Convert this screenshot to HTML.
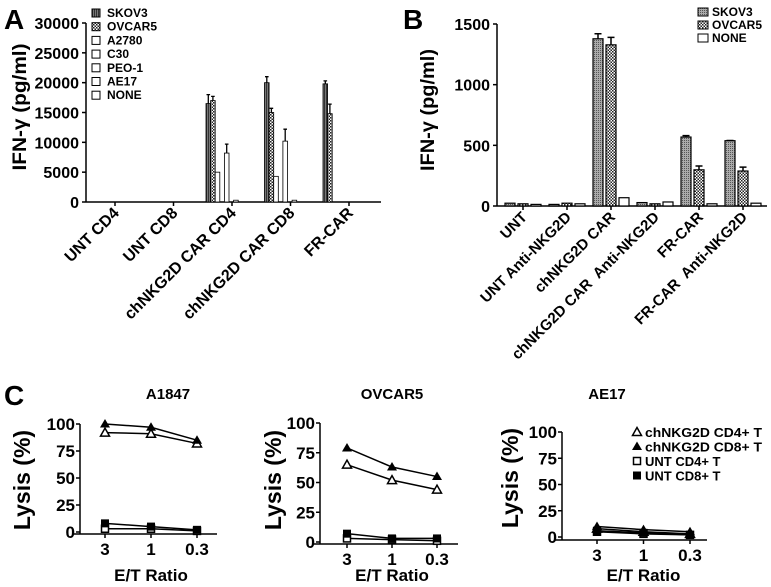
<!DOCTYPE html>
<html><head><meta charset="utf-8">
<style>
html,body{margin:0;padding:0;background:#fff;}
svg{display:block;font-family:"Liberation Sans",Arial,sans-serif;}
</style></head>
<body>
<svg id="fig" width="771" height="587" viewBox="0 0 771 587" xmlns="http://www.w3.org/2000/svg">
<defs>
<pattern id="stripes" width="2" height="4" patternUnits="userSpaceOnUse"><rect width="2" height="4" fill="#777"/><rect width="1" height="4" fill="#333"/></pattern>
<pattern id="checker" width="3" height="3" patternUnits="userSpaceOnUse"><rect width="3" height="3" fill="#fff"/><rect width="1.5" height="1.5" fill="#222"/><rect x="1.5" y="1.5" width="1.5" height="1.5" fill="#222"/></pattern>
<pattern id="dots" width="2" height="2" patternUnits="userSpaceOnUse"><rect width="2" height="2" fill="#aaa"/><rect width="1" height="1" fill="#555"/></pattern>
</defs>
<g id="gA"></g>
<g id="gB"></g>
<g id="gC"></g>
</svg>
<script>
// ---------- Panel A data ----------
const aCategories = ["UNT CD4","UNT CD8","chNKG2D CAR CD4","chNKG2D CAR CD8","FR-CAR"];
const aSeries = ["SKOV3","OVCAR5","A2780","C30","PEO-1","AE17","NONE"];
const aSKOV3 = [0,0,16500,20000,19800];
const aOVCAR5 = [0,0,17000,15000,14800];
const aA2780 = [0,0,5000,4300,0];
const aC30 = [0,0,0,0,0];
const aPEO1 = [0,0,8200,10200,0];
const aAE17 = [0,0,0,0,0];
const aNONE = [0,0,300,300,0];
const aSKOV3err = [0,0,1500,1000,500];
const aOVCAR5err = [0,0,700,700,1600];
const aPEO1err = [0,0,1500,2000,0];
const aTicks = [0,5000,10000,15000,20000,25000,30000];
// ---------- Panel B data ----------
const bCategories = ["UNT","UNT Anti-NKG2D","chNKG2D CAR","chNKG2D CAR  Anti-NKG2D","FR-CAR","FR-CAR  Anti-NKG2D"];
const bSeries = ["SKOV3","OVCAR5","NONE"];
const bSKOV3 = [15,5,1370,20,560,530];
const bOVCAR5 = [10,15,1320,10,290,280];
const bNONE = [5,10,60,25,10,15];
const bSKOV3err = [0,0,50,0,20,10];
const bOVCAR5err = [0,0,70,0,40,40];
const bTicks = [0,500,1000,1500];
// ---------- Panel C data ----------
const cRatios = ["3","1","0.3"];
const cTicks = [0,25,50,75,100];
const cSeries = ["chNKG2D CD4+ T","chNKG2D CD8+ T","UNT CD4+ T","UNT CD8+ T"];
const cA1847_CD4 = [92,91,82];
const cA1847_CD8 = [100,97,85];
const cA1847_UNT4 = [3,3,1];
const cA1847_UNT8 = [8,5,2];
const cOVCAR5_CD4 = [65,52,44];
const cOVCAR5_CD8 = [79,63,55];
const cOVCAR5_UNT4 = [3,2,1];
const cOVCAR5_UNT8 = [7,3,3];
const cAE17_CD4 = [8,5,3];
const cAE17_CD8 = [10,7,5];
const cAE17_UNT4 = [5,3,2];
const cAE17_UNT8 = [6,4,2];

const NS="http://www.w3.org/2000/svg";
function mk(parent,tag,attrs,txt){const e=document.createElementNS(NS,tag);for(const k in attrs)e.setAttribute(k,attrs[k]);if(txt!==undefined)e.textContent=txt;parent.appendChild(e);return e;}

// ===== Panel A =====
(function(){
const g=document.getElementById('gA');
const ax=86, y0=202, y1=23, xEnd=381;
const yA=v=>y0-(v/30000)*(y0-y1);
const xTick=i=>115+i*58.5;
let t=mk(g,'text',{x:4,y:29,'font-size':28,'font-weight':'bold'},'A');


t=mk(g,'text',{x:0,y:0,'font-size':19,'font-weight':'bold','text-anchor':'middle',transform:'translate(26,107) rotate(-90)',textLength:127,lengthAdjust:'spacingAndGlyphs'},'IFN-γ (pg/ml)');


let l=mk(g,'line',{x1:ax,y1:y1,x2:ax,y2:y0,stroke:'#000','stroke-width':1.5});


l=mk(g,'line',{x1:ax,y1:y0,x2:xEnd,y2:y0,stroke:'#000','stroke-width':1.5});


aTicks.forEach(v=>{
  const y=yA(v);
  const tk=mk(g,'line',{x1:ax-4,y1:y,x2:ax,y2:y,stroke:'#000','stroke-width':1.5});
  
  
  const tl=mk(g,'text',{x:79,y:y+6,'font-size':16,'font-weight':'bold','text-anchor':'end'},String(v));
  
  
});
const vals=[aSKOV3,aOVCAR5,aA2780,aC30,aPEO1,aAE17,aNONE];
const errs=[aSKOV3err,aOVCAR5err,null,null,aPEO1err,null,null];
const fills=['url(#stripes)','url(#checker)','#fff','#fff','#fff','#fff','#fff'];
aCategories.forEach((c,i)=>{
  const tx=xTick(i);
  const tk=mk(g,'line',{x1:tx,y1:y0,x2:tx,y2:y0+4,stroke:'#000','stroke-width':1.5});
  
  
  const tl=mk(g,'text',{x:0,y:0,'font-size':16,'font-weight':'bold','text-anchor':'end',transform:`translate(${tx+5},${y0+12}) rotate(-45)`},c);
  
  
  vals.forEach((arr,s)=>{
    const v=arr[i]; if(v<=0) return;
    const x=tx-26+s*4.6, y=yA(v);
    if(errs[s]&&errs[s][i]>0){
      const ey=yA(v+errs[s][i]);
      const e=mk(g,'path',{d:`M${x+2.3},${y} V${ey} M${x+0.5},${ey} H${x+4.1}`,stroke:'#000','stroke-width':1.3,fill:'none'});
      
      
    }
    const b=mk(g,'rect',{x:x,y:y,width:4.6,height:y0-y,fill:fills[s],stroke:'#000','stroke-width':0.8});
    
    
  });
});
aSeries.forEach((s,k)=>{
  const y=13+k*13.7;
  const r=mk(g,'rect',{x:92,y:y-4,width:8,height:8,fill:fills[k],stroke:'#000','stroke-width':1});
  
  
  const tl=mk(g,'text',{x:107,y:y+4,'font-size':12,'font-weight':'bold'},s);
  
  
});
})();

// ===== Panel B =====
(function(){
const g=document.getElementById('gB');
const ax=497, y0=206, y1=24, xEnd=767;
const yB=v=>y0-(v/1500)*(y0-y1);
const xTick=i=>523+i*44;
let t=mk(g,'text',{x:403,y:29,'font-size':28,'font-weight':'bold'},'B');


t=mk(g,'text',{x:0,y:0,'font-size':19,'font-weight':'bold','text-anchor':'middle',transform:'translate(434,110) rotate(-90)',textLength:122,lengthAdjust:'spacingAndGlyphs'},'IFN-γ (pg/ml)');


let l=mk(g,'line',{x1:ax,y1:y1,x2:ax,y2:y0,stroke:'#000','stroke-width':1.5});


l=mk(g,'line',{x1:ax,y1:y0,x2:xEnd,y2:y0,stroke:'#000','stroke-width':1.5});


bTicks.forEach(v=>{
  const y=yB(v);
  const tk=mk(g,'line',{x1:ax-4,y1:y,x2:ax,y2:y,stroke:'#000','stroke-width':1.5});
  
  
  const tl=mk(g,'text',{x:490,y:y+6,'font-size':16,'font-weight':'bold','text-anchor':'end'},String(v));
  
  
});
const vals=[bSKOV3,bOVCAR5,bNONE];
const errs=[bSKOV3err,bOVCAR5err,null];
const fills=['url(#dots)','url(#checker)','#fff'];
bCategories.forEach((c,i)=>{
  const tx=xTick(i);
  const tk=mk(g,'line',{x1:tx,y1:y0,x2:tx,y2:y0+4,stroke:'#000','stroke-width':1.5});
  
  
  const tl=mk(g,'text',{x:0,y:0,'font-size':15,'font-weight':'bold','text-anchor':'end','xml:space':'preserve',style:'white-space:pre',transform:`translate(${tx+5},${y0+12}) rotate(-45)`},c);
  
  
  vals.forEach((arr,s)=>{
    const v=arr[i];
    const x=tx-18+s*13, y=yB(v);
    if(errs[s]&&errs[s][i]>0){
      const ey=yB(v+errs[s][i]);
      const e=mk(g,'path',{d:`M${x+5},${y} V${ey} M${x+1.5},${ey} H${x+8.5}`,stroke:'#000','stroke-width':1.5,fill:'none'});
      
      
    }
    const b=mk(g,'rect',{x:x,y:y-1,width:10,height:y0-y+1,fill:fills[s],stroke:'#000','stroke-width':1.2});
    
    
  });
});
bSeries.forEach((s,k)=>{
  const y=12+k*13;
  const r=mk(g,'rect',{x:698,y:y-4,width:10,height:8,fill:fills[k],stroke:'#000','stroke-width':1});
  
  
  const tl=mk(g,'text',{x:712,y:y+4,'font-size':12,'font-weight':'bold'},s);
  
  
});
})();

// ===== Panel C =====
function marker(g,type,x,y){
  let e;
  if(type===0) e=mk(g,'path',{d:`M${x},${y-4.5} L${x+4.5},${y+3.5} L${x-4.5},${y+3.5} Z`,fill:'#fff',stroke:'#000','stroke-width':1.5});
  else if(type===1) e=mk(g,'path',{d:`M${x},${y-5} L${x+5},${y+3.5} L${x-5},${y+3.5} Z`,fill:'#000'});
  else if(type===2) e=mk(g,'rect',{x:x-3.5,y:y-3.5,width:7,height:7,fill:'#fff',stroke:'#000','stroke-width':1.5});
  else e=mk(g,'rect',{x:x-4,y:y-4,width:8,height:8,fill:'#000'});
  return e;
}
function subplot(cfg,series,title){
  const g=document.getElementById('gC');
  const yC=v=>cfg.y0-(v/100)*(cfg.y0-cfg.y100);
  const xC=i=>cfg.x3+i*cfg.dx;
  let t=mk(g,'text',{x:cfg.titleX,y:399,'font-size':15,'font-weight':'bold','text-anchor':'middle'},title);
  
  
  t=mk(g,'text',{x:0,y:0,'font-size':23,'font-weight':'bold','text-anchor':'middle',transform:`translate(${cfg.lysX},${cfg.lysY}) rotate(-90)`},'Lysis (%)');
  
  
  let l=mk(g,'line',{x1:cfg.ax,y1:cfg.y100,x2:cfg.ax,y2:cfg.axY,stroke:'#000','stroke-width':1.5});
  
  
  l=mk(g,'line',{x1:cfg.ax-8,y1:cfg.axY,x2:cfg.xEnd,y2:cfg.axY,stroke:'#000','stroke-width':1.5});
  
  
  cTicks.forEach(v=>{
    const y=yC(v);
    const tk=mk(g,'line',{x1:cfg.ax-4,y1:y,x2:cfg.ax,y2:y,stroke:'#000','stroke-width':1.5});
    
    
    const tl=mk(g,'text',{x:cfg.ax-5,y:y+6,'font-size':17,'font-weight':'bold','text-anchor':'end'},String(v));
    
    
  });
  cRatios.forEach((r,i)=>{
    const x=xC(i);
    const tk=mk(g,'line',{x1:x,y1:cfg.axY,x2:x,y2:cfg.axY+4,stroke:'#000','stroke-width':1.5});
    
    
    const tl=mk(g,'text',{x:x,y:cfg.axY+21,'font-size':17,'font-weight':'bold','text-anchor':'middle'},r);
    
    
  });
  t=mk(g,'text',{x:xC(1),y:581,'font-size':17,'font-weight':'bold','text-anchor':'middle'},'E/T Ratio');
  
  
  series.forEach((arr,s)=>{
    const pts=arr.map((v,i)=>xC(i)+','+yC(v)).join(' ');
    const pl=mk(g,'polyline',{points:pts,fill:'none',stroke:'#000','stroke-width':1.5});
    
    
    arr.forEach((v,i)=>{
      const m=marker(g,s,xC(i),yC(v));
      
      
    });
  });
}
subplot({ax:80,y0:532,y100:424,axY:534,xEnd:217,x3:105,dx:46,titleX:168,lysX:30,lysY:480},[cA1847_CD4,cA1847_CD8,cA1847_UNT4,cA1847_UNT8],'A1847');
subplot({ax:320,y0:542,y100:423,axY:544,xEnd:458,x3:347,dx:45,titleX:392,lysX:281,lysY:480},[cOVCAR5_CD4,cOVCAR5_CD8,cOVCAR5_UNT4,cOVCAR5_UNT8],'OVCAR5');
subplot({ax:562,y0:537,y100:432,axY:540,xEnd:707,x3:597,dx:46.5,titleX:607,lysX:518,lysY:478},[cAE17_CD4,cAE17_CD8,cAE17_UNT4,cAE17_UNT8],'AE17');
(function(){
  const g=document.getElementById('gC');
  let t=mk(g,'text',{x:4,y:405,'font-size':28,'font-weight':'bold'},'C');
  
  
  cSeries.forEach((s,k)=>{
    const y=432+k*14.5;
    const m=marker(g,k,637,y);
    
    
    const tl=mk(g,'text',{x:645,y:y+5,'font-size':13,'font-weight':'bold'},s);
    if(k<2){ tl.setAttribute('textLength','117'); tl.setAttribute('lengthAdjust','spacingAndGlyphs'); }
    
    
  });
})();
</script>
</body></html>
